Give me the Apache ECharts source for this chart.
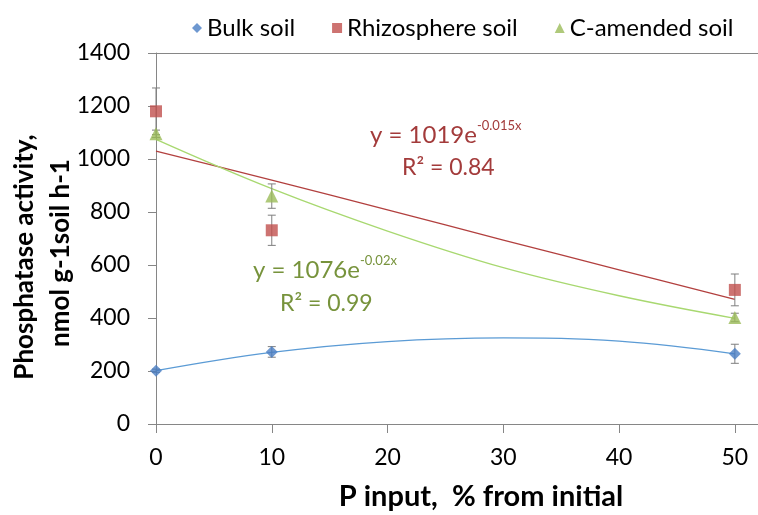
<!DOCTYPE html>
<html><head><meta charset="utf-8">
<script src="https://cdn.jsdelivr.net/npm/echarts@6/dist/echarts.min.js"></script>
<style>html,body{margin:0;padding:0;background:#fff}#c{width:758px;height:515px}</style>
</head><body><div id="c"></div>
<script>
// ---- data ----
const xValues = [0, 10, 50];
const seriesNames = ['Bulk soil', 'Rhizosphere soil', 'C-amended soil'];
const bulk = [201, 272, 265];
const bulkErr = [6, 20, 36];
const rhizo = [1180, 731, 506];
const rhizoErr = [88, 57, 60];
const camend = [1095, 860, 402];
const camendErr = [14, 46, 16];
const xTicks = [0, 10, 20, 30, 40, 50];
const yTicks = [0, 200, 400, 600, 800, 1000, 1200, 1400];
// trendlines at x = 0,10,...,50
const trendX = [0, 10, 20, 30, 40, 50];
const bulkTrend = [201, 270, 311, 325, 313, 265];
const rhizoTrend = [1030, 920, 808, 694, 582, 470];
const camendTrend = [1074, 888, 728, 590, 484, 399];

const FONT = 'Lato';
const colBulk = '#4A7EC4', colRhizo = '#C0504D', colC = '#9BBB59';
const trBulk = '#5B9BD5', trRhizo = '#B2403F', trC = '#A8D870';

const pts = (ys) => xValues.map((x, i) => [x, ys[i]]);
const tpts = (ys) => trendX.map((x, i) => [x, ys[i]]);
const errs = (ys, es) => xValues.map((x, i) => [x, ys[i] - es[i], ys[i] + es[i]]);

function errorBar(data) {
  return {
    type: 'custom', data: data, z: 3, silent: true,
    encode: { x: 0, y: [1, 2] },
    renderItem: function (params, api) {
      const x = api.value(0);
      const lo = api.coord([x, api.value(1)]);
      const hi = api.coord([x, api.value(2)]);
      const w = 4;
      const st = { stroke: '#7F7F7F', lineWidth: 1 };
      return { type: 'group', children: [
        { type: 'line', shape: { x1: lo[0], y1: lo[1], x2: hi[0], y2: hi[1] }, style: st },
        { type: 'line', shape: { x1: lo[0] - w, y1: lo[1], x2: lo[0] + w, y2: lo[1] }, style: st },
        { type: 'line', shape: { x1: hi[0] - w, y1: hi[1], x2: hi[0] + w, y2: hi[1] }, style: st }
      ]};
    }
  };
}

const chart = echarts.init(document.getElementById('c'));
chart.setOption({
  animation: false,
  textStyle: { fontFamily: FONT },
  grid: { left: 156, right: -3, top: 53, bottom: 91, containLabel: false },
  legend: {
    data: [
      { name: seriesNames[0], icon: 'diamond', itemStyle: { color: colBulk } },
      { name: seriesNames[1], icon: 'rect', itemStyle: { color: colRhizo } },
      { name: seriesNames[2], icon: 'triangle', itemStyle: { color: colC } }
    ],
    top: 11, left: 187, itemWidth: 10, itemHeight: 10, itemGap: 37,
    textStyle: { fontSize: 24, color: '#000', fontFamily: FONT }
  },
  xAxis: {
    type: 'value', min: 0, max: 52, interval: 10,
    axisLine: { lineStyle: { color: '#868686', width: 1 } },
    axisTick: { show: true, length: 9, lineStyle: { color: '#868686' } },
    axisLabel: { fontSize: 23, color: '#000', margin: 22, showMaxLabel: false,
      formatter: v => xTicks.indexOf(v) >= 0 ? String(v) : '' },
    splitLine: { show: false }
  },
  yAxis: {
    type: 'value', min: 0, max: 1400, interval: 200,
    axisLine: { show: true, lineStyle: { color: '#868686', width: 1 } },
    axisTick: { show: true, length: 8, lineStyle: { color: '#868686' } },
    axisLabel: { fontSize: 23, color: '#000', margin: 26,
      formatter: v => yTicks.indexOf(v) >= 0 ? String(v) : '' },
    splitLine: { show: false }
  },
  graphic: [
    { type: 'text', x: 25, y: 257, rotation: Math.PI / 2, style: { text: 'Phosphatase activity,', font: 'bold 26px ' + FONT, fill: '#000', align: 'center', verticalAlign: 'middle' } },
    { type: 'text', x: 61, y: 253, rotation: Math.PI / 2, style: { text: 'nmol g-1soil h-1', font: 'bold 26px ' + FONT, fill: '#000', align: 'center', verticalAlign: 'middle' } },
    { type: 'text', x: 481, y: 497, style: { text: 'P input,  % from initial', font: 'bold 29px ' + FONT, fill: '#000', align: 'center', verticalAlign: 'middle' } },
    { type: 'text', x: 370, y: 133, style: { text: '{m|y = 1019e}{s|-0.015x}', verticalAlign: 'middle',
        rich: { m: { fontSize: 24, fill: '#A33B3B', fontFamily: FONT, verticalAlign: 'bottom', lineHeight: 28 },
                s: { fontSize: 13, fill: '#A33B3B', fontFamily: FONT, verticalAlign: 'top', lineHeight: 28 } } } },
    { type: 'text', x: 402, y: 168, style: { text: 'R² = 0.84', font: '23px ' + FONT, fill: '#A33B3B', verticalAlign: 'middle' } },
    { type: 'text', x: 253, y: 268, style: { text: '{m|y = 1076e}{s|-0.02x}', verticalAlign: 'middle',
        rich: { m: { fontSize: 24, fill: '#77933C', fontFamily: FONT, verticalAlign: 'bottom', lineHeight: 28 },
                s: { fontSize: 13, fill: '#77933C', fontFamily: FONT, verticalAlign: 'top', lineHeight: 28 } } } },
    { type: 'text', x: 280, y: 304, style: { text: 'R² = 0.99', font: '23px ' + FONT, fill: '#77933C', verticalAlign: 'middle' } }
  ],
  series: [
    { name: 'topline', type: 'line', data: [], silent: true,
      markLine: { silent: true, symbol: 'none', label: { show: false },
        lineStyle: { color: '#868686', type: 'solid', width: 1 }, data: [{ yAxis: 1400 }] } },
    { name: 'bulkTrend', type: 'line', data: tpts(bulkTrend), smooth: 0.4, showSymbol: false, silent: true,
      lineStyle: { color: trBulk, width: 1.3 }, z: 1 },
    { name: 'rhizoTrend', type: 'line', data: tpts(rhizoTrend), smooth: 0.4, showSymbol: false, silent: true,
      lineStyle: { color: trRhizo, width: 1.3 }, z: 1 },
    { name: 'cTrend', type: 'line', data: tpts(camendTrend), smooth: 0.4, showSymbol: false, silent: true,
      lineStyle: { color: trC, width: 1.3 }, z: 1 },
    errorBar(errs(bulk, bulkErr)),
    errorBar(errs(rhizo, rhizoErr)),
    errorBar(errs(camend, camendErr)),
    { name: seriesNames[0], type: 'scatter', data: pts(bulk), symbol: 'diamond', symbolSize: 12,
      itemStyle: { color: colBulk }, z: 5 },
    { name: seriesNames[1], type: 'scatter', data: pts(rhizo), symbol: 'rect', symbolSize: 12,
      itemStyle: { color: colRhizo }, z: 5 },
    { name: seriesNames[2], type: 'scatter', data: pts(camend), symbol: 'triangle', symbolSize: 13,
      itemStyle: { color: colC }, z: 5 }
  ]
});
</script></body></html>
